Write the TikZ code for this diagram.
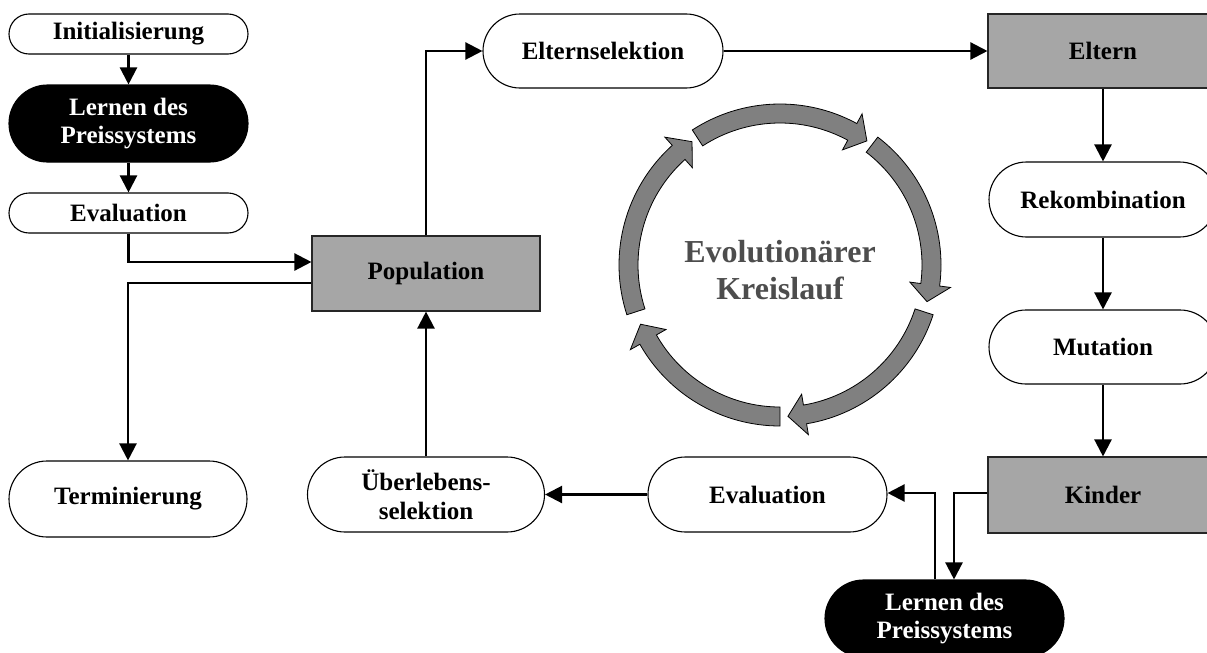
\documentclass[tikz,border=0pt]{standalone}
\usepackage{fontspec}
\setmainfont{Liberation Serif}
\usetikzlibrary{arrows.meta}
\definecolor{boxgray}{RGB}{166,166,166}
\definecolor{ringgray}{RGB}{128,128,128}
\definecolor{titlegray}{RGB}{77,77,77}
\begin{document}
\begin{tikzpicture}[x=1pt,y=-1pt,
  every node/.style={font=\fontsize{25}{28.5}\selectfont\bfseries, align=center, inner sep=0pt},
  pillS/.style={draw=black, line width=1.1pt, fill=white, rounded corners=20pt,
                minimum height=40pt, minimum width=239pt},
  pillL/.style={draw=black, line width=1.1pt, fill=white, rounded corners=37.5pt,
                minimum height=75pt, minimum width=238pt},
  pillD/.style={pillL, fill=black, text=white, rounded corners=38.5pt, minimum height=77pt},
  grayblock/.style={draw=black!85, line width=1.1pt, fill=boxgray,
                minimum height=75pt, minimum width=228pt},
  link/.style={line width=2.3pt, -{Triangle[length=17pt,width=17pt]}},
  ringarrow/.style={draw=black, line width=0.8pt, fill=ringgray, line join=miter}
]
\useasboundingbox (0,0) rectangle (1207,653);
\clip (0,0) rectangle (1207,653);

% left column
\node[pillS] (init) at (128.5,34) {Initialisierung};
\node[pillD, minimum width=239pt] (lern1) at (128.5,123.5) {Lernen des\\Preissystems};
\node[pillS] (eval1) at (128.5,213) {Evaluation};
\node[pillL, minimum height=76pt, rounded corners=38pt] (term) at (128,499) {Terminierung};

% population and survivor selection
\node[grayblock] (pop) at (426,273.5) {Population};
\node[pillL, minimum width=237pt] (ueber) at (426,494.5) {Überlebens-\\selektion};

% top row
\node[pillL, minimum width=240pt, minimum height=74pt, rounded corners=37pt] (eltsel) at (603,51) {Elternselektion};
\node[grayblock, minimum width=230pt, minimum height=74pt] (eltern) at (1103,51) {Eltern};

% right column
\node[pillL, minimum width=228pt] (rekomb) at (1103,199.5) {Rekombination};
\node[pillL, minimum width=228pt, minimum height=74pt, rounded corners=37pt] (mut) at (1103,347) {Mutation};
\node[grayblock, minimum width=230pt, minimum height=76pt] (kinder) at (1103,495) {Kinder};

% bottom row
\node[pillL, minimum width=239pt] (eval2) at (767.5,494.5) {Evaluation};
\node[pillD, minimum width=239pt] (lern2) at (944.5,618.5) {Lernen des\\Preissystems};

% connectors
\draw[link] (init) -- (lern1);
\draw[link] (lern1) -- (eval1);
\draw[link] (eval1.south) |- ([yshift=11.5pt]pop.west);
\draw[link] ([yshift=-9.5pt]pop.west) -| (term.north);
\draw[link] (ueber.north) -- (pop.south);
\draw[link] (pop.north) |- (eltsel.west);
\draw[link] (eltsel) -- (eltern);
\draw[link] (eltern) -- (rekomb);
\draw[link] (rekomb) -- (mut);
\draw[link] (mut) -- (kinder);
\draw[link] ([yshift=2pt]kinder.west) -| ([xshift=9.5pt]lern2.north);
\draw[link] ([xshift=-9.5pt]lern2.north) |- ([yshift=1.5pt]eval2.east);
\draw[link] (eval2.west) -- (ueber.east);

% evolutionary cycle: five curved block arrows running clockwise
\begin{scope}[shift={(780,265)}]
  \foreach \a/\e in {123/55, 52.6/-14, -18/-87, -90/-157, -162/-234.5} {
    \pgfmathsetmacro\b{\e+6.5}
    \path[ringarrow] (\a:161pt) arc[start angle=\a, end angle=\b, radius=161pt]
      -- (\b:172pt) -- (\e:151.5pt) -- (\b:131pt) -- (\b:142pt)
      arc[start angle=\b, end angle=\a, radius=142pt] -- cycle;
  }
  \node[text=titlegray, font=\fontsize{32}{37}\selectfont\bfseries] (kreis) at (0,5)
    {Evolutionärer\\Kreislauf};
\end{scope}
\end{tikzpicture}
\end{document}
